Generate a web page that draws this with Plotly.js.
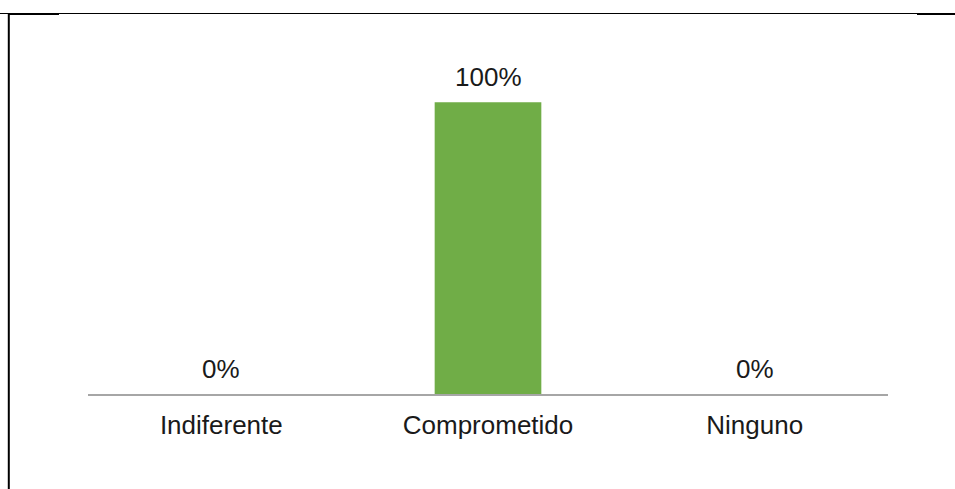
<!DOCTYPE html>
<html>
<head>
<meta charset="utf-8">
<script src="https://cdn.plot.ly/plotly-3.0.1.min.js"></script>
<style>html,body{margin:0;padding:0;background:#fff;}#chart{width:955px;height:489px;}</style>
</head>
<body>
<div id="chart"></div>
<script>
var categories = ["Indiferente", "Comprometido", "Ninguno"];
var values = [0, 1, 0];
var labels = ["0%", "100%", "0%"];

var W = 955, H = 489, L = 88, R = 67, T = 44, B = 95;
var pw = W - L - R, ph = H - T - B;
function px(x){ return (x - L) / pw; }
function py(y){ return (H - B - y) / ph; }

var FONT = "Liberation Sans, Arial, sans-serif";

var trace = {
  type: "bar",
  x: categories,
  y: values,
  marker: {color: "#70AD47"},
  width: 0.4,
  hoverinfo: "none"
};

var annotations = categories.map(function(c, i){
  return {x: c, y: values[i], xref: "x", yref: "y", text: labels[i], showarrow: false,
          yanchor: "middle", yshift: 25, font: {family: FONT, size: 26, color: "#1a1a1a"}};
});

var shapes = [
  {type: "line", xref: "paper", yref: "paper", x0: px(0), x1: px(955), y0: py(13.5), y1: py(13.5), line: {color: "#000", width: 1}},
  {type: "line", xref: "paper", yref: "paper", x0: px(8), x1: px(59), y0: py(14), y1: py(14), line: {color: "#000", width: 2}},
  {type: "line", xref: "paper", yref: "paper", x0: px(917), x1: px(955), y0: py(14), y1: py(14), line: {color: "#000", width: 2}},
  {type: "line", xref: "paper", yref: "paper", x0: px(8.8), x1: px(8.8), y0: py(13), y1: py(489), line: {color: "#000", width: 2}}
];

var layout = {
  width: W, height: H,
  margin: {l: L, r: R, t: T, b: B, pad: 0},
  paper_bgcolor: "#fff", plot_bgcolor: "#fff",
  showlegend: false,
  font: {family: FONT, size: 26, color: "#1a1a1a"},
  xaxis: {type: "category", showgrid: false, zeroline: false, showline: true, linecolor: "#a6a6a6", linewidth: 1.5,
          ticks: "", ticklabelstandoff: 7, tickfont: {family: FONT, size: 26, color: "#1a1a1a"}, fixedrange: true},
  yaxis: {range: [0, 1.2], showgrid: false, zeroline: false, showline: false, showticklabels: false, ticks: "", fixedrange: true},
  annotations: annotations,
  shapes: shapes,
  bargap: 0.6
};

Plotly.newPlot("chart", [trace], layout, {displayModeBar: false, staticPlot: true});
</script>
</body>
</html>
